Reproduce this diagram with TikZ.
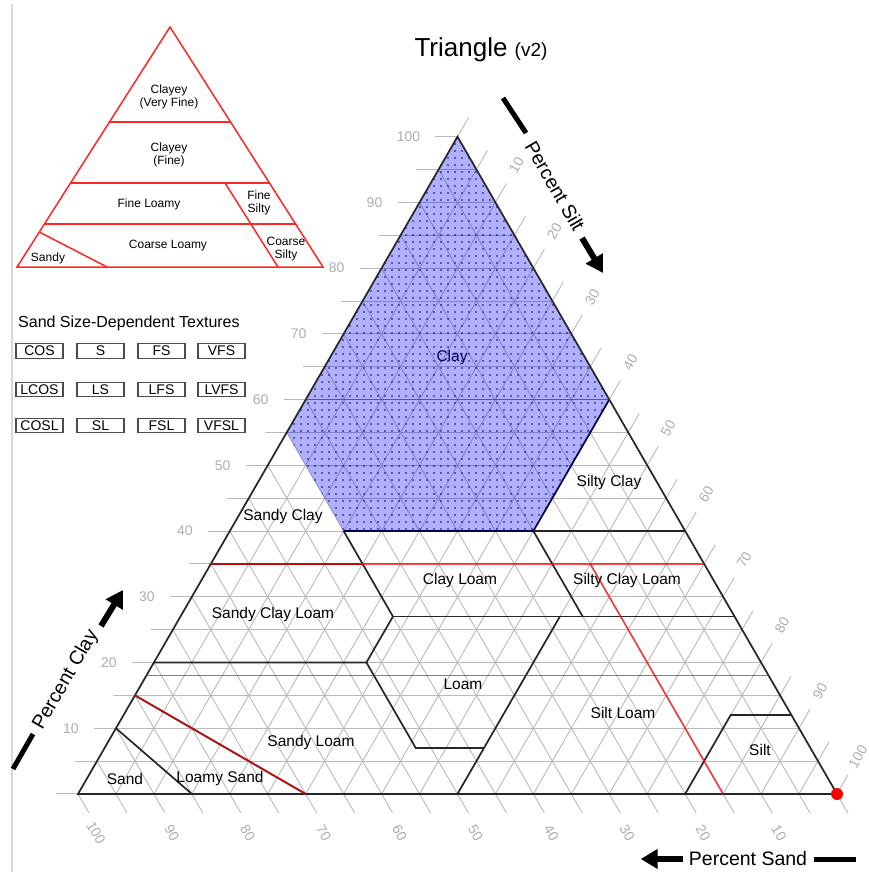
\documentclass[tikz,border=0pt]{standalone}
\usepackage{fontspec}
\setmainfont{Liberation Sans}
\usetikzlibrary{arrows.meta, patterns.meta}

\newcommand{\pxfont}[1]{\fontsize{#1}{#1}\selectfont}

\begin{document}
\begin{tikzpicture}[x=1pt, y=-1pt,
    grid/.style={draw=black!27, line width=0.9pt},
    tick/.style={text=black!32, font=\pxfont{14}, inner sep=0pt},
    bound/.style={draw=black!85, line width=1.7pt},
    family/.style={draw=red, draw opacity=0.7, line width=1.7pt},
    class/.style={font=\pxfont{15.5}, inner sep=1pt},
    famline/.style={draw=red!85, line width=1.5pt},
    fam/.style={font=\fontsize{12}{13}\selectfont, align=center, inner sep=0pt},
    sizebox/.style={draw=black!70, line width=1.3pt, minimum width=47pt, minimum height=14.5pt, inner sep=0pt, font=\pxfont{14}},
    axtitle/.style={font=\pxfont{19.5}, inner sep=0pt},
    bar/.style={line width=5pt},
    axarrow/.style={line width=6pt, -{Triangle[length=17pt,width=19pt]}}]

    \useasboundingbox (0,0) rectangle (869,872);
    \draw[black!15, line width=2pt] (12,4) -- (12,872);

    % corners of the texture triangle (weights below are percent/10)
    \coordinate (sand) at (78,794);
    \coordinate (silt) at (837,794);
    \coordinate (clay) at (457.5,136.7);

    % grid every 5 percent with ticks
    \foreach \v [evaluate=\v as \a using \v/10, evaluate=\v as \b using 10-\v/10] in {0,5,...,100} {
        \draw[grid] (barycentric cs:sand=\b,clay=\a) -- (barycentric cs:silt=\b,clay=\a);
        \draw[grid] (barycentric cs:sand=\b,clay=\a) -- ++(-22,0);
        \draw[grid] (barycentric cs:silt=\a,sand=\b) -- (barycentric cs:silt=\a,clay=\b);
        \draw[grid] (barycentric cs:silt=\a,clay=\b) -- ++(11,-19);
        \draw[grid] (barycentric cs:sand=\a,clay=\b) -- (barycentric cs:sand=\a,silt=\b);
        \draw[grid] (barycentric cs:sand=\a,silt=\b) -- ++(11,19);
    }
    \foreach \v [evaluate=\v as \a using \v/10, evaluate=\v as \b using 10-\v/10] in {10,20,...,100} {
        \path (barycentric cs:sand=\b,clay=\a) ++(-37,0) node[tick, anchor=east] (cl\v) {\v};
        \path (barycentric cs:silt=\a,clay=\b) ++(21,-37) node[tick, rotate=60] (si\v) {\v};
        \path (barycentric cs:sand=\a,silt=\b) ++(18,39) node[tick, rotate=-60] (sa\v) {\v};
    }

    % clay class
    \coordinate (clA) at (barycentric cs:sand=4.5,silt=1.5,clay=4);
    \coordinate (clB) at (barycentric cs:sand=4.5,clay=5.5);
    \coordinate (clC) at (barycentric cs:silt=4,clay=6);
    \coordinate (clD) at (barycentric cs:sand=2,silt=4,clay=4);
    \fill[blue, fill opacity=0.31] (clA) -- (clB) -- (clay) -- (clC) -- (clD) -- cycle;
    \fill[pattern={Dots[distance=7pt,radius=0.85pt]}, pattern color=blue!35!black] (clA) -- (clB) -- (clay) -- (clC) -- (clD) -- cycle;

    % class boundaries
    \draw[bound] (barycentric cs:sand=9,clay=1) -- (barycentric cs:sand=8.5,silt=1.5);
    \draw[bound] (barycentric cs:sand=8.5,clay=1.5) -- (barycentric cs:sand=7,silt=3);
    \draw[bound] (barycentric cs:sand=8,clay=2) -- (barycentric cs:sand=5.2,silt=2.8,clay=2)
        -- (barycentric cs:sand=5.2,silt=4.1,clay=0.7) -- (barycentric cs:sand=4.3,silt=5,clay=0.7);
    \draw[bound] (barycentric cs:sand=2.3,silt=5,clay=2.7) -- (barycentric cs:sand=5,silt=5);
    \draw[bound] (barycentric cs:sand=6.5,clay=3.5) -- (barycentric cs:sand=4.5,silt=2,clay=3.5);
    \draw[bound] (clA) -- (barycentric cs:sand=4.5,silt=2,clay=3.5) -- (barycentric cs:sand=4.5,silt=2.8,clay=2.7)
        -- (barycentric cs:sand=5.2,silt=2.8,clay=2);
    \draw[bound] (barycentric cs:sand=4.5,silt=2.8,clay=2.7) -- (barycentric cs:silt=7.3,clay=2.7);
    \draw[bound] (clD) -- (barycentric cs:sand=2,silt=5.3,clay=2.7);
    \draw[bound] (clD) -- (barycentric cs:silt=6,clay=4);
    \draw[bound] (barycentric cs:sand=2,silt=8) -- (barycentric cs:sand=0.8,silt=8,clay=1.2)
        -- (barycentric cs:silt=8.8,clay=1.2);
    \draw[bound, draw=blue!30!black] (clA) -- (clD) -- (clC);
    \draw[bound] (sand) -- (silt) -- (clay) -- cycle;

    % family boundaries
    \draw[family] (barycentric cs:sand=4,clay=6) -- (clC);
    \draw[family] (barycentric cs:sand=6.5,clay=3.5) -- (barycentric cs:silt=6.5,clay=3.5);
    \draw[family] (barycentric cs:sand=8.2,clay=1.8) -- (barycentric cs:silt=8.2,clay=1.8);
    \draw[family] (barycentric cs:sand=1.5,silt=5,clay=3.5) -- (barycentric cs:sand=1.5,silt=8.5);
    \draw[family] (barycentric cs:sand=8.5,clay=1.5) -- (barycentric cs:sand=7,silt=3);
    \fill[red] (silt) circle[radius=6pt];

    \node[class, text=blue!35!black] (tclay) at (452,357) {Clay};
    \node[class] (tsiltyclay) at (609,482) {Silty Clay};
    \node[class] (tsandyclay) at (283,516) {Sandy Clay};
    \node[class] (tclayloam) at (460,580) {Clay Loam};
    \node[class] (tsiltyclayloam) at (627,580) {Silty Clay Loam};
    \node[class] (tsandyclayloam) at (273,614) {Sandy Clay Loam};
    \node[class] (tloam) at (463,684) {Loam};
    \node[class] (tsiltloam) at (623,713) {Silt Loam};
    \node[class] (tsandyloam) at (311,742) {Sandy Loam};
    \node[class] (tsilt) at (760,750) {Silt};
    \node[class] (tsand) at (125,779) {Sand};
    \node[class] (tloamysand) at (220,778) {Loamy Sand};

    % axis titles
    \node[anchor=base] (title) at (481,57) {\pxfont{26}Triangle \pxfont{19}(v2)};
    \node[axtitle] (sandtitle) at (748,859) {Percent Sand};
    \draw[axarrow] ([xshift=-6pt]sandtitle.west) -- ++(-42,0);
    \draw[bar] ([xshift=7pt]sandtitle.east) -- ++(42,0);
    \node[axtitle, rotate=60] (claytitle) at (66,680) {Percent Clay};
    \draw[bar] (13,769) -- (33,734);
    \draw[axarrow] (101,626) -- (123,590);
    \node[axtitle, rotate=-60] (silttitle) at (555,186) {Percent Silt};
    \draw[bar] (503,98) -- (526,133);
    \draw[axarrow] (582,238) -- (603,273);

    % family triangle
    \draw[famline] (170,27) -- (323,267) -- (17,267) -- cycle;
    \draw[famline] (109.4,122) -- (230.6,122);
    \draw[famline] (70.6,183) -- (269.5,183);
    \draw[famline] (44.4,224) -- (295.6,224);
    \draw[famline] (225,183) -- (278,267);
    \draw[famline] (39.3,232) -- (107,267);
    \node[fam] (fvfine) at (169,97) {Clayey\\(Very Fine)};
    \node[fam] (ffine) at (169,155) {Clayey\\(Fine)};
    \node[fam] (floamy) at (149,204) {Fine Loamy};
    \node[fam] (fsilty) at (259,203) {Fine\\Silty};
    \node[fam] (cloamy) at (168,246) {Coarse Loamy};
    \node[fam] (csilty) at (286,249) {Coarse\\Silty};
    \node[fam] (fsandy) at (48,258) {Sandy};

    % sand size boxes
    \node[anchor=base west, font=\pxfont{16}, inner sep=0pt] (sizetitle) at (18,327) {Sand Size-Dependent Textures};
    \node[sizebox] (cos) at (39.5,351) {COS};
    \node[sizebox] (s) at (100.5,351) {S};
    \node[sizebox] (fs) at (161.5,351) {FS};
    \node[sizebox] (vfs) at (221.5,351) {VFS};
    \node[sizebox] (lcos) at (39.5,389.5) {LCOS};
    \node[sizebox] (ls) at (100.5,389.5) {LS};
    \node[sizebox] (lfs) at (161.5,389.5) {LFS};
    \node[sizebox] (lvfs) at (221.5,389.5) {LVFS};
    \node[sizebox] (cosl) at (39.5,425.5) {COSL};
    \node[sizebox] (sl) at (100.5,425.5) {SL};
    \node[sizebox] (fsl) at (161.5,425.5) {FSL};
    \node[sizebox] (vfsl) at (221.5,425.5) {VFSL};
\end{tikzpicture}
\end{document}
